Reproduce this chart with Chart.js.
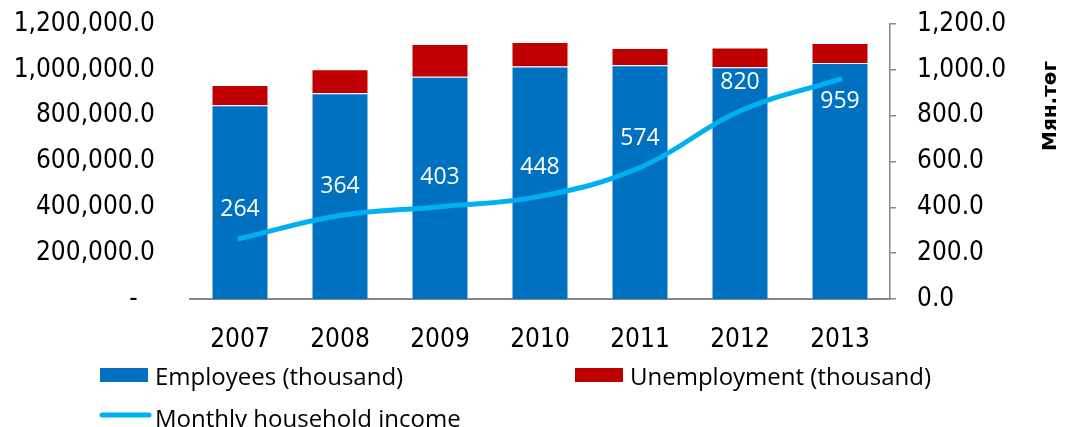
<!DOCTYPE html>
<html>
<head>
<meta charset="utf-8">
<title>Employees, unemployment and household income</title>
<script src="https://cdn.jsdelivr.net/npm/chart.js@4/dist/chart.umd.min.js"></script>
<style>
  html, body { margin: 0; padding: 0; background: #fff; }
  #chart { display: block; }
</style>
</head>
<body>
<canvas id="chart" width="1065" height="427"></canvas>
<script>
// ── Data ──────────────────────────────────────────────────────────
const years = ['2007', '2008', '2009', '2010', '2011', '2012', '2013'];
const employees = [845000, 898000, 970000, 1015000, 1020000, 1011000, 1030000];
const unemployment = [89000, 105000, 143000, 106000, 75000, 87000, 87000];
const householdIncome = [264, 364, 403, 448, 574, 820, 959];
const incomeLabelSide = ['above', 'above', 'above', 'above', 'above', 'above', 'below'];
const rightAxisTitle = 'Мян.төг';

const TICK_FONT = { family: '"DejaVu Sans Condensed", "DejaVu Sans", sans-serif', size: 26 };
const TEXT_FONT = '"Open Sans", "Liberation Sans", sans-serif';
const AXIS_GRAY = '#868686';

function fmtThousands(v) {
  if (v === 0) return '-\u2007\u200A';
  return Number(v).toLocaleString('en-US', { minimumFractionDigits: 1, maximumFractionDigits: 1 });
}

// keep the plot area where the reference has it: no extra room for half labels
function noLabelPadding(s) {
  s.paddingTop = 0;
  s.paddingBottom = 0;
}

// white value labels on the income line
const incomeLabels = {
  id: 'incomeLabels',
  afterDatasetsDraw(chart) {
    const meta = chart.getDatasetMeta(2);
    const ctx = chart.ctx;
    ctx.save();
    ctx.fillStyle = '#fff';
    ctx.font = `23px ${TEXT_FONT}`;
    ctx.textAlign = 'center';
    ctx.textBaseline = 'middle';
    meta.data.forEach((pt, i) => {
      const dy = incomeLabelSide[i] === 'below' ? 22 : -29;
      ctx.fillText(String(householdIncome[i]), pt.x, pt.y + dy);
    });
    ctx.restore();
  }
};

// rotated unit title next to the right axis
const unitTitle = {
  id: 'unitTitle',
  afterDraw(chart) {
    const { ctx, chartArea } = chart;
    ctx.save();
    ctx.translate(chartArea.right + 161, chartArea.top + 82);
    ctx.rotate(-Math.PI / 2);
    ctx.fillStyle = '#000';
    ctx.font = 'bold 20px "DejaVu Sans", sans-serif';
    ctx.textAlign = 'center';
    ctx.textBaseline = 'middle';
    ctx.fillText(rightAxisTitle, 0, 0);
    ctx.restore();
  }
};

// legend: two items on the first row, the line on the second
const bottomLegend = {
  id: 'bottomLegend',
  afterDraw(chart) {
    const ctx = chart.ctx;
    const left = chart.chartArea.left - 90;
    const slots = [
      { x: left, y: 375 },
      { x: left + 475, y: 375 },
      { x: left, y: 415 },
    ];
    ctx.save();
    ctx.font = `24px ${TEXT_FONT}`;
    ctx.textBaseline = 'alphabetic';
    ctx.textAlign = 'left';
    chart.data.datasets.forEach((ds, i) => {
      const s = slots[i];
      if (ds.type === 'line') {
        ctx.strokeStyle = ds.borderColor;
        ctx.lineWidth = 5;
        ctx.lineCap = 'round';
        ctx.beginPath();
        ctx.moveTo(s.x + 2, s.y);
        ctx.lineTo(s.x + 49, s.y);
        ctx.stroke();
        ctx.fillStyle = '#000';
        ctx.fillText(ds.label, s.x + 55, s.y + 12);
      } else {
        ctx.fillStyle = ds.backgroundColor;
        ctx.fillRect(s.x, s.y - 7, 48, 14);
        ctx.fillStyle = '#000';
        ctx.fillText(ds.label, s.x + 55, s.y + 10);
      }
    });
    ctx.restore();
  }
};

new Chart(document.getElementById('chart'), {
  data: {
    labels: years,
    datasets: [
      {
        type: 'bar',
        label: 'Employees (thousand)',
        data: employees,
        backgroundColor: '#0070C0',
        borderColor: 'rgba(255,255,255,0.45)',
        borderWidth: 1,
        yAxisID: 'y',
        stack: 'labour',
        order: 2,
      },
      {
        type: 'bar',
        label: 'Unemployment (thousand)',
        data: unemployment,
        backgroundColor: '#C00000',
        borderColor: 'rgba(255,255,255,0.45)',
        borderWidth: 1,
        yAxisID: 'y',
        stack: 'labour',
        order: 2,
      },
      {
        type: 'line',
        label: 'Monthly household income',
        data: householdIncome,
        borderColor: '#00B0F0',
        borderWidth: 5,
        borderCapStyle: 'round',
        tension: 0.4,
        pointRadius: 0,
        yAxisID: 'y1',
        order: 0,
      },
    ],
  },
  options: {
    responsive: false,
    animation: false,
    devicePixelRatio: 1,
    layout: { padding: { top: 24, left: 0, right: 0, bottom: 0 } },
    datasets: { bar: { barPercentage: 0.57, categoryPercentage: 1 } },
    plugins: {
      legend: { display: false },
      tooltip: { enabled: false },
    },
    scales: {
      x: {
        stacked: true,
        grid: { display: false },
        border: { display: true, color: AXIS_GRAY, width: 2 },
        ticks: { color: '#000', font: TICK_FONT, padding: 18, maxRotation: 0 },
        afterFit: (s) => { s.height = 128; s.paddingLeft = 0; s.paddingRight = 0; },
      },
      y: {
        position: 'left',
        stacked: true,
        min: 0,
        max: 1200000,
        grid: { display: false },
        border: { display: false },
        ticks: { stepSize: 200000, color: '#000', font: TICK_FONT, padding: 27, callback: fmtThousands },
        afterFit: (s) => { s.width = 190; noLabelPadding(s); },
      },
      y1: {
        position: 'right',
        min: 0,
        max: 1200,
        grid: { display: true, drawOnChartArea: false, drawTicks: true, tickLength: 6, color: AXIS_GRAY, lineWidth: 1.5 },
        border: { display: true, color: AXIS_GRAY, width: 1.5 },
        ticks: {
          stepSize: 200,
          color: '#000',
          font: TICK_FONT,
          padding: 21,
          callback: (v) => Number(v).toLocaleString('en-US', { minimumFractionDigits: 1, maximumFractionDigits: 1 }),
        },
        afterFit: (s) => { s.width = 175; noLabelPadding(s); },
      },
    },
  },
  plugins: [incomeLabels, unitTitle, bottomLegend],
});
</script>
</body>
</html>
